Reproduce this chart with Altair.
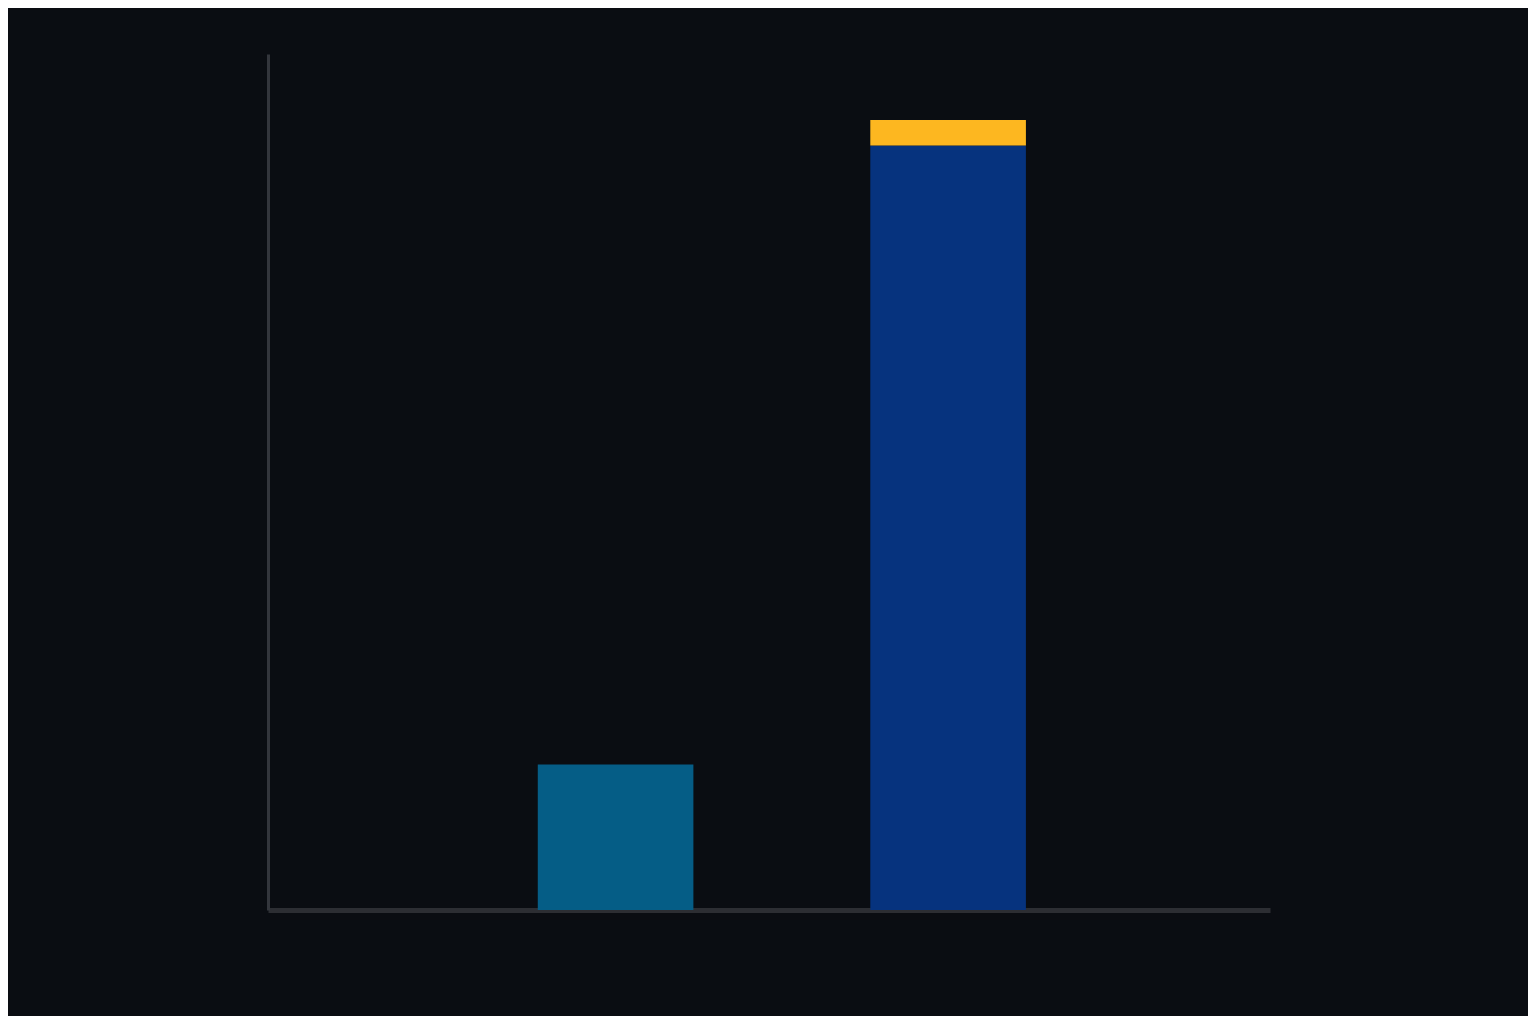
import altair as alt
import pandas as pd

categories = ["A", "B", "B"]
series = ["teal", "blue", "yellow"]
values = [17.0, 89.3, 3.0]
order = [0, 0, 1]

df = pd.DataFrame({"category": categories, "series": series, "value": values, "order": order})

chart = alt.Chart(df).mark_bar(strokeWidth=0).encode(
    x=alt.X("category:N", title=None,
            scale=alt.Scale(paddingInner=0.532, paddingOuter=0.7727, align=0.525),
            axis=alt.Axis(labels=False, ticks=False, domainColor="#2c2e33", domainWidth=5)),
    y=alt.Y("value:Q", title=None, stack="zero",
            scale=alt.Scale(domain=[0, 100], nice=False),
            axis=alt.Axis(labels=False, ticks=False, grid=False, domainColor="#33363c", domainWidth=3)),
    color=alt.Color("series:N", legend=None,
                    scale=alt.Scale(domain=["teal", "blue", "yellow"],
                                    range=["#055d86", "#06337e", "#fdb720"])),
    order=alt.Order("order:Q"),
).properties(
    width=1002, height=856,
    autosize=alt.AutoSizeParams(type="none"),
    padding={"left": 260, "top": 46, "right": 258, "bottom": 106},
    background="#0a0d12",
).configure_view(stroke=None)

chart.save("out.html", embed_options={"renderer": "svg", "actions": False})
